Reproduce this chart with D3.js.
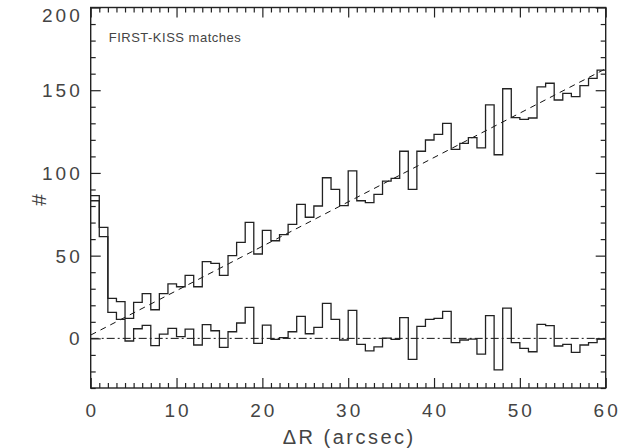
<!DOCTYPE html>
<html>
<head>
<meta charset="utf-8">
<script src="https://cdn.jsdelivr.net/npm/d3@7"></script>
<style>
  body { margin: 0; background: #fff; }
  svg text { font-family: "Liberation Sans", Arial, sans-serif; fill: #444; }
</style>
</head>
<body>
<svg id="chart" width="620" height="448"></svg>
<script>
// histogram of FIRST-KISS match separations, 1 arcsec bins
const binEdges = d3.range(0, 61);
const counts = [
  86.3, 67.1, 24.2, 22.2, 12.1, 21.8, 27.0, 17.3, 27.0, 33.0,
  31.2, 38.1, 31.2, 46.4, 45.3, 38.1, 50.0, 58.0, 70.1, 51.0,
  65.3, 59.0, 62.7, 68.9, 81.0, 73.2, 80.0, 97.1, 90.1, 80.2,
  101.2, 83.2, 82.0, 87.1, 95.1, 96.7, 113.1, 90.1, 113.1, 119.9,
  123.3, 130.0, 114.3, 117.9, 121.3, 115.1, 141.1, 111.0, 150.9, 133.4,
  132.4, 133.2, 152.0, 154.2, 144.1, 148.1, 146.1, 152.8, 157.2, 162.2
];
// counts minus the random-match line
const residuals = [
  83.2, 61.5, 15.7, 11.5, -1.6, 5.8, 7.9, -4.4, 2.6, 6.0,
  1.0, 5.6, -4.0, 8.3, 4.6, -5.4, 4.0, 9.3, 18.7, -3.0,
  8.0, -0.6, 0.4, 4.0, 13.3, 2.8, 6.6, 21.2, 11.5, -1.0,
  16.9, -3.6, -7.5, -5.2, 0.2, -0.6, 12.5, -12.7, 7.3, 11.5,
  12.1, 16.3, -2.6, -1.0, -0.4, -9.5, 13.7, -19.1, 18.3, -2.6,
  -6.0, -8.1, 8.5, 7.7, -4.6, -3.6, -8.5, -4.0, -2.6, -0.4
];
const randomLine = [{ x: 0, y: 2 }, { x: 60, y: 163 }];
const zeroLine = [{ x: 0, y: 0 }, { x: 60, y: 0 }];
const xTicks = [0, 10, 20, 30, 40, 50, 60];
const yTicks = [0, 50, 100, 150, 200];

const margin = { top: 7.5, right: 14.3, bottom: 60, left: 90.7 },
  width = 620,
  height = 448,
  w = width - margin.left - margin.right,
  h = 388 - margin.top;

const svg = d3.select("#chart");
const g = svg
  .append("g")
  .attr("transform", `translate(${margin.left},${margin.top})`);

const x = d3.scaleLinear().domain([0, 60]).range([0, w]);
const y = d3.scaleLinear().domain([-30, 200]).range([h, 0]);

function stepData(vals) {
  const pts = vals.map((v, i) => ({ x: binEdges[i], y: v }));
  pts.push({ x: binEdges[vals.length], y: vals[vals.length - 1] });
  return pts;
}

const step = d3
  .line()
  .curve(d3.curveStepAfter)
  .x((d) => x(d.x))
  .y((d) => y(d.y));
const straight = d3
  .line()
  .x((d) => x(d.x))
  .y((d) => y(d.y));

g.append("path")
  .datum(zeroLine)
  .attr("fill", "none")
  .attr("stroke", "#111")
  .attr("stroke-width", 1)
  .attr("stroke-dasharray", "8,3,2,3")
  .attr("d", straight);

g.append("path")
  .datum(randomLine)
  .attr("fill", "none")
  .attr("stroke", "#111")
  .attr("stroke-width", 1)
  .attr("stroke-dasharray", "6,5")
  .attr("d", straight);

[counts, residuals].forEach((vals) => {
  g.append("path")
    .datum(stepData(vals))
    .attr("fill", "none")
    .attr("stroke", "#222")
    .attr("stroke-width", 1.3)
    .attr("d", step);
});

// axes, ticks inward on all four sides
const tickStyle = (sel) => {
  sel.select(".domain").remove();
  sel.selectAll("line").attr("stroke", "#222").attr("stroke-width", 1.2);
  sel.selectAll("text").remove();
};
const minorX = d3.range(0, 61).filter((d) => d % 10 !== 0);
const minorY = d3.range(-30, 201, 10).filter((d) => d % 50 !== 0);

g.append("g").attr("transform", `translate(0,${h})`)
  .call(d3.axisTop(x).tickValues(xTicks).tickSize(10)).call(tickStyle);
g.append("g").attr("transform", `translate(0,${h})`)
  .call(d3.axisTop(x).tickValues(minorX).tickSize(5)).call(tickStyle);
g.append("g")
  .call(d3.axisBottom(x).tickValues(xTicks).tickSize(10)).call(tickStyle);
g.append("g")
  .call(d3.axisBottom(x).tickValues(minorX).tickSize(5)).call(tickStyle);
g.append("g")
  .call(d3.axisRight(y).tickValues(yTicks).tickSize(10)).call(tickStyle);
g.append("g")
  .call(d3.axisRight(y).tickValues(minorY).tickSize(5)).call(tickStyle);
g.append("g").attr("transform", `translate(${w},0)`)
  .call(d3.axisLeft(y).tickValues(yTicks).tickSize(10)).call(tickStyle);
g.append("g").attr("transform", `translate(${w},0)`)
  .call(d3.axisLeft(y).tickValues(minorY).tickSize(5)).call(tickStyle);

g.append("rect")
  .attr("width", w)
  .attr("height", h)
  .attr("fill", "none")
  .attr("stroke", "#222")
  .attr("stroke-width", 1.4);

g.selectAll(".xlab")
  .data(xTicks)
  .enter()
  .append("text")
  .attr("x", (d) => x(d) + 1.5)
  .attr("y", h + 29)
  .attr("text-anchor", "middle")
  .attr("font-size", 19)
  .attr("letter-spacing", 3)
  .text((d) => d);

g.selectAll(".ylab")
  .data(yTicks)
  .enter()
  .append("text")
  .attr("x", -8)
  .attr("y", (d) => Math.max(y(d) + 7, 14))
  .attr("text-anchor", "end")
  .attr("font-size", 19)
  .attr("letter-spacing", 3)
  .text((d) => d);

g.append("text")
  .attr("x", w / 2 + 1)
  .attr("y", h + 56)
  .attr("text-anchor", "middle")
  .attr("font-size", 20)
  .attr("letter-spacing", 2.5)
  .text("ΔR (arcsec)");

g.append("text")
  .attr("transform", "rotate(-90)")
  .attr("x", -(200 - margin.top))
  .attr("y", -45)
  .attr("text-anchor", "middle")
  .attr("font-size", 21)
  .text("#");

g.append("text")
  .attr("x", 18)
  .attr("y", 34)
  .attr("font-size", 13)
  .attr("letter-spacing", 0.5)
  .text("FIRST-KISS matches");
</script>
</body>
</html>
